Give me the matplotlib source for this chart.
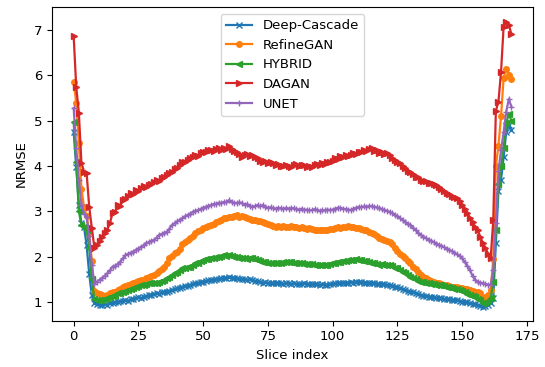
"""NRMSE per slice for five reconstruction methods."""
import matplotlib
matplotlib.use("Agg")
import matplotlib.pyplot as plt
import numpy as np

# ── values, one per slice (0..169) ─────────────────────────────────────────────

deep_cascade = [
    4.76, 3.98, 3.15, 2.74, 2.65, 2.25, 1.62, 1.15, 0.97, 0.95,
    0.94, 0.93, 0.95, 0.94, 0.97, 0.98, 1.00, 0.99, 1.02, 1.03,
    1.04, 1.03, 1.06, 1.07, 1.08, 1.10, 1.09, 1.12, 1.13, 1.15,
    1.16, 1.18, 1.19, 1.18, 1.21, 1.22, 1.23, 1.25, 1.27, 1.28,
    1.30, 1.31, 1.34, 1.35, 1.36, 1.38, 1.40, 1.41, 1.42, 1.44,
    1.45, 1.46, 1.48, 1.49, 1.49, 1.51, 1.51, 1.52, 1.54, 1.53,
    1.55, 1.54, 1.53, 1.52, 1.51, 1.50, 1.51, 1.49, 1.50, 1.49,
    1.47, 1.46, 1.44, 1.43, 1.44, 1.42, 1.43, 1.41, 1.41, 1.42,
    1.41, 1.40, 1.42, 1.41, 1.40, 1.41, 1.39, 1.40, 1.40, 1.41,
    1.39, 1.40, 1.40, 1.39, 1.40, 1.38, 1.39, 1.38, 1.38, 1.39,
    1.40, 1.41, 1.42, 1.41, 1.43, 1.42, 1.43, 1.44, 1.43, 1.45,
    1.45, 1.44, 1.43, 1.43, 1.42, 1.41, 1.42, 1.40, 1.40, 1.39,
    1.39, 1.38, 1.38, 1.36, 1.34, 1.32, 1.30, 1.28, 1.26, 1.25,
    1.23, 1.21, 1.19, 1.17, 1.15, 1.14, 1.13, 1.12, 1.11, 1.10,
    1.09, 1.08, 1.08, 1.07, 1.06, 1.06, 1.05, 1.04, 1.04, 1.03,
    1.01, 1.00, 0.99, 0.97, 0.96, 0.95, 0.94, 0.92, 0.90, 0.91,
    0.93, 0.97, 1.08, 2.30, 3.45, 3.70, 4.20, 4.75, 4.90, 4.80,
]

refinegan = [
    5.86, 5.40, 4.50, 3.50, 3.10, 2.90, 2.55, 1.90, 1.25, 1.20,
    1.18, 1.15, 1.14, 1.16, 1.19, 1.21, 1.23, 1.26, 1.29, 1.33,
    1.35, 1.37, 1.40, 1.42, 1.45, 1.46, 1.48, 1.49, 1.52, 1.56,
    1.58, 1.60, 1.63, 1.68, 1.73, 1.78, 1.85, 1.96, 2.01, 2.08,
    2.11, 2.18, 2.29, 2.33, 2.37, 2.41, 2.46, 2.52, 2.56, 2.60,
    2.63, 2.66, 2.68, 2.70, 2.73, 2.76, 2.79, 2.82, 2.85, 2.86,
    2.88, 2.87, 2.89, 2.91, 2.88, 2.90, 2.88, 2.85, 2.83, 2.81,
    2.82, 2.79, 2.78, 2.77, 2.75, 2.72, 2.70, 2.68, 2.66, 2.67,
    2.66, 2.67, 2.65, 2.66, 2.67, 2.65, 2.66, 2.64, 2.65, 2.63,
    2.62, 2.63, 2.61, 2.60, 2.59, 2.58, 2.60, 2.59, 2.59, 2.61,
    2.62, 2.64, 2.65, 2.64, 2.66, 2.65, 2.67, 2.66, 2.65, 2.64,
    2.63, 2.62, 2.60, 2.58, 2.55, 2.52, 2.49, 2.45, 2.41, 2.39,
    2.37, 2.35, 2.33, 2.27, 2.20, 2.13, 2.07, 2.01, 1.96, 1.90,
    1.85, 1.78, 1.72, 1.66, 1.60, 1.56, 1.52, 1.49, 1.47, 1.45,
    1.43, 1.41, 1.40, 1.38, 1.37, 1.35, 1.34, 1.33, 1.32, 1.31,
    1.30, 1.29, 1.28, 1.26, 1.25, 1.23, 1.21, 1.19, 1.08, 1.12,
    1.15, 1.27, 1.95, 4.00, 4.45, 5.10, 5.95, 6.15, 6.00, 5.92,
]

hybrid = [
    4.97, 4.10, 3.00, 2.70, 2.65, 2.58, 2.20, 1.50, 1.06, 1.05,
    1.04, 1.04, 1.06, 1.09, 1.12, 1.13, 1.16, 1.19, 1.20, 1.23,
    1.24, 1.26, 1.28, 1.31, 1.34, 1.35, 1.37, 1.38, 1.40, 1.41,
    1.42, 1.42, 1.43, 1.45, 1.47, 1.49, 1.52, 1.56, 1.60, 1.64,
    1.67, 1.70, 1.74, 1.75, 1.77, 1.78, 1.82, 1.85, 1.87, 1.90,
    1.93, 1.94, 1.95, 1.96, 1.98, 1.99, 2.00, 2.01, 2.03, 2.02,
    2.04, 2.02, 2.00, 1.99, 1.97, 1.96, 1.97, 1.95, 1.96, 1.96,
    1.94, 1.92, 1.91, 1.89, 1.88, 1.87, 1.86, 1.85, 1.85, 1.86,
    1.87, 1.88, 1.89, 1.89, 1.88, 1.87, 1.86, 1.85, 1.85, 1.84,
    1.84, 1.83, 1.83, 1.82, 1.82, 1.81, 1.82, 1.82, 1.82, 1.84,
    1.85, 1.86, 1.88, 1.89, 1.90, 1.91, 1.93, 1.92, 1.93, 1.94,
    1.93, 1.92, 1.91, 1.90, 1.89, 1.87, 1.86, 1.84, 1.82, 1.83,
    1.82, 1.82, 1.81, 1.79, 1.76, 1.74, 1.71, 1.67, 1.63, 1.60,
    1.56, 1.53, 1.50, 1.47, 1.45, 1.44, 1.42, 1.41, 1.40, 1.39,
    1.38, 1.38, 1.37, 1.35, 1.34, 1.32, 1.31, 1.29, 1.28, 1.26,
    1.24, 1.21, 1.18, 1.15, 1.13, 1.10, 1.07, 1.04, 0.98, 1.00,
    1.02, 1.08, 1.45, 2.60, 3.60, 4.00, 4.40, 4.95, 5.15, 5.00,
]

dagan = [
    6.87, 5.74, 5.18, 4.07, 3.88, 3.85, 3.10, 2.64, 2.20, 2.25,
    2.34, 2.44, 2.52, 2.60, 2.74, 2.96, 2.98, 3.14, 3.12, 3.25,
    3.27, 3.33, 3.40, 3.38, 3.47, 3.45, 3.52, 3.55, 3.53, 3.58,
    3.60, 3.64, 3.69, 3.67, 3.74, 3.77, 3.80, 3.84, 3.88, 3.94,
    3.95, 4.03, 4.10, 4.08, 4.14, 4.17, 4.20, 4.25, 4.23, 4.29,
    4.32, 4.30, 4.35, 4.36, 4.33, 4.37, 4.39, 4.36, 4.40, 4.38,
    4.44, 4.38, 4.34, 4.32, 4.26, 4.21, 4.24, 4.27, 4.22, 4.25,
    4.20, 4.17, 4.12, 4.10, 4.11, 4.07, 4.08, 4.06, 4.03, 4.04,
    4.01, 4.00, 4.03, 4.01, 3.99, 4.02, 4.04, 4.00, 4.03, 4.02,
    3.99, 4.01, 3.99, 4.02, 4.04, 4.03, 4.06, 4.05, 4.09, 4.10,
    4.12, 4.17, 4.15, 4.23, 4.20, 4.24, 4.22, 4.25, 4.28, 4.27,
    4.32, 4.30, 4.35, 4.33, 4.37, 4.39, 4.34, 4.36, 4.28, 4.31,
    4.27, 4.28, 4.24, 4.18, 4.14, 4.10, 4.06, 4.00, 3.95, 3.90,
    3.86, 3.83, 3.77, 3.75, 3.70, 3.68, 3.66, 3.63, 3.62, 3.60,
    3.58, 3.53, 3.50, 3.45, 3.40, 3.38, 3.35, 3.31, 3.29, 3.22,
    3.15, 3.05, 2.97, 2.85, 2.77, 2.66, 2.58, 2.44, 2.30, 2.20,
    2.06, 1.97, 2.80, 5.22, 5.42, 6.08, 7.08, 7.19, 7.12, 6.91,
]

unet = [
    5.28, 4.40, 3.70, 3.15, 2.95, 2.88, 2.45, 1.82, 1.40, 1.45,
    1.49, 1.53, 1.58, 1.63, 1.70, 1.78, 1.80, 1.84, 1.89, 1.96,
    2.04, 2.06, 2.09, 2.11, 2.15, 2.18, 2.22, 2.25, 2.30, 2.32,
    2.35, 2.37, 2.42, 2.48, 2.50, 2.53, 2.55, 2.62, 2.70, 2.74,
    2.78, 2.81, 2.85, 2.89, 2.92, 2.95, 2.99, 3.01, 3.03, 3.05,
    3.08, 3.10, 3.12, 3.14, 3.16, 3.17, 3.19, 3.18, 3.21, 3.20,
    3.25, 3.21, 3.19, 3.18, 3.20, 3.18, 3.15, 3.16, 3.12, 3.10,
    3.12, 3.14, 3.11, 3.14, 3.10, 3.08, 3.09, 3.07, 3.06, 3.08,
    3.07, 3.05, 3.08, 3.06, 3.07, 3.07, 3.05, 3.04, 3.06, 3.03,
    3.04, 3.02, 3.03, 3.05, 3.03, 3.01, 3.03, 3.02, 3.04, 3.03,
    3.04, 3.06, 3.08, 3.08, 3.06, 3.05, 3.04, 3.03, 3.06, 3.08,
    3.10, 3.09, 3.11, 3.10, 3.12, 3.12, 3.10, 3.09, 3.07, 3.05,
    3.03, 3.01, 2.99, 2.96, 2.92, 2.89, 2.85, 2.81, 2.77, 2.73,
    2.70, 2.64, 2.59, 2.53, 2.48, 2.44, 2.41, 2.37, 2.35, 2.32,
    2.29, 2.26, 2.24, 2.21, 2.18, 2.15, 2.12, 2.09, 2.05, 2.02,
    1.96, 1.88, 1.80, 1.70, 1.58, 1.49, 1.45, 1.43, 1.41, 1.40,
    1.38, 1.38, 1.70, 2.75, 3.90, 4.35, 4.75, 5.20, 5.48, 5.31,
]

methods = ["Deep-Cascade", "RefineGAN", "HYBRID", "DAGAN", "UNET"]
series = [deep_cascade, refinegan, hybrid, dagan, unet]
markers = ["x", "o", "<", ">", "+"]

slices = np.arange(len(deep_cascade))

fig = plt.figure(figsize=(5.45, 3.67), dpi=100)
ax = fig.add_axes([0.095, 0.126, 0.8835, 0.854])

for name, vals, mk in zip(methods, series, markers):
    ax.plot(slices, vals, marker=mk, markersize=4, linewidth=1.6, label=name)

ax.set_xlabel("Slice index", fontsize=9.5)
ax.set_ylabel("NRMSE", fontsize=9.5)
ax.set_xticks([0, 25, 50, 75, 100, 125, 150, 175])
ax.tick_params(labelsize=9.5)
ax.legend(loc="upper center", fontsize=9.5)

fig.savefig("out.png", dpi=100)
plt.close(fig)
